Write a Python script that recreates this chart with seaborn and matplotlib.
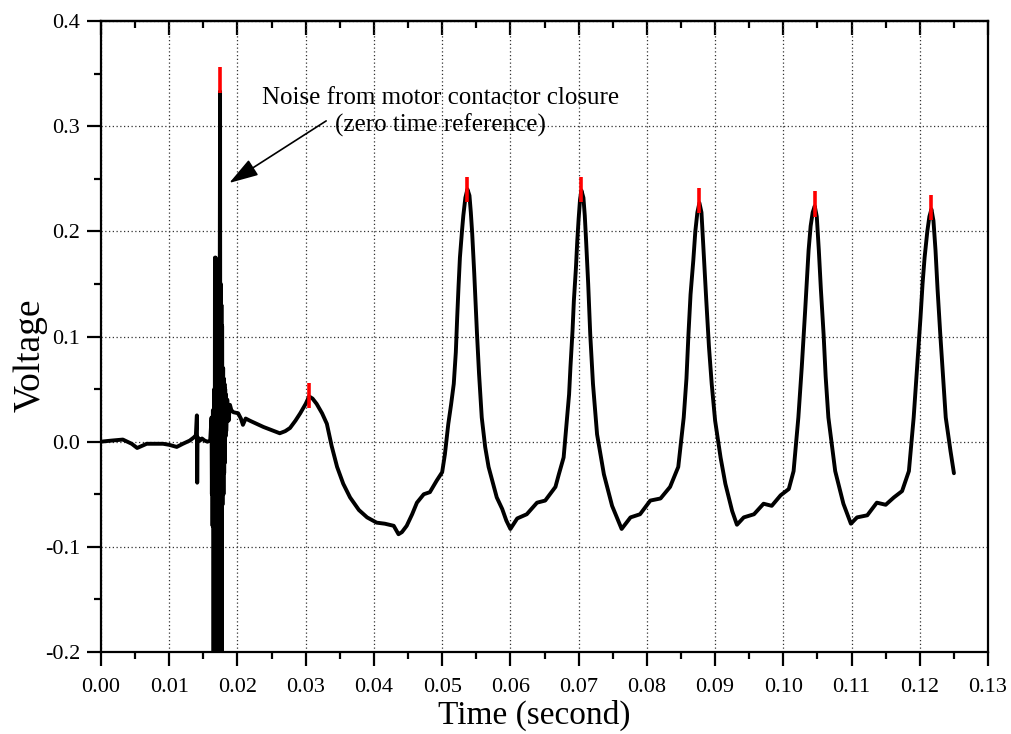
import seaborn as sns
import matplotlib
matplotlib.use("Agg")
import matplotlib.pyplot as plt
import pandas as pd

## Data ##
time_s = [
    # quiet baseline + first small spike
    0.0000, 0.0015, 0.0032, 0.0045, 0.0053, 0.0060, 0.0067, 0.0080, 0.0091, 0.0100,
    0.0111, 0.0120, 0.0130, 0.0136, 0.0139, 0.01405, 0.01410, 0.01415, 0.0142, 0.0145,
    0.0148, 0.0152, 0.0156, 0.0160,
    # noise burst from contactor closure
    0.0162, 0.01625, 0.0163, 0.01635, 0.0164, 0.0165, 0.0166, 0.01665, 0.0167, 0.01675,
    0.0168, 0.01685, 0.0169, 0.01695, 0.0170, 0.01705, 0.0171, 0.01715, 0.0172, 0.0173,
    0.01745, 0.0175, 0.01755, 0.0176, 0.01765, 0.0177, 0.01775, 0.0178, 0.0179, 0.01795,
    0.0180, 0.01805, 0.0181, 0.01815, 0.0182, 0.01825, 0.0183, 0.01835, 0.0185, 0.0187,
    0.0189, 0.0191,
    # after burst, small hump, first trough
    0.0194, 0.0201, 0.0205, 0.0208, 0.0212, 0.0218, 0.0228, 0.0238, 0.0250, 0.0262,
    0.0270, 0.0277, 0.0285, 0.0292, 0.0300, 0.0305, 0.0310, 0.0316, 0.0324, 0.0331,
    0.0338, 0.0346, 0.0355, 0.0365, 0.0378, 0.0390, 0.0404, 0.0416, 0.0429, 0.0436,
    0.0441, 0.0448, 0.0456, 0.0463, 0.0473, 0.0482, 0.0492, 0.0500, 0.0504,
    # peak 1
    0.0509, 0.0513, 0.0517, 0.0520, 0.0522, 0.0524, 0.0526, 0.0529, 0.0531, 0.0534,
    0.0537, 0.0540, 0.0542, 0.0544, 0.0547, 0.0551, 0.0554, 0.0558, 0.0563, 0.0568,
    # trough 1
    0.0580, 0.0588, 0.0594, 0.0600, 0.0610, 0.0624, 0.0639, 0.0651, 0.0666, 0.0671,
    0.0678,
    # peak 2
    0.0683, 0.0686, 0.0688, 0.0691, 0.0693, 0.0696, 0.0698, 0.0700, 0.0702, 0.0704,
    0.0707, 0.0709, 0.0711, 0.0714, 0.0717, 0.0721, 0.0727,
    # trough 2
    0.0737, 0.0749, 0.0763, 0.0776, 0.0790, 0.0805, 0.0820, 0.0834, 0.0846,
    # peak 3
    0.0854, 0.0858, 0.0861, 0.0864, 0.0868, 0.0871, 0.0874, 0.0877, 0.0880, 0.0883,
    0.0887, 0.0891, 0.0895, 0.0900, 0.0908,
    # trough 3
    0.0915, 0.0925, 0.0932, 0.0942, 0.0957, 0.0971, 0.0983, 0.0996, 0.1008, 0.1015,
    # peak 4
    0.1022, 0.1027, 0.1032, 0.1035, 0.1037, 0.1040, 0.1043, 0.1046, 0.1049, 0.1052,
    0.1055, 0.1059, 0.1062, 0.1066,
    # trough 4
    0.1076, 0.1088, 0.1099, 0.1108, 0.1123, 0.1137, 0.1150, 0.1162, 0.1174, 0.1184,
    # peak 5 and tail
    0.1191, 0.1196, 0.1201, 0.1204, 0.1207, 0.1211, 0.1214, 0.1217, 0.1220, 0.1223,
    0.1226, 0.1230, 0.1234, 0.1238, 0.1245, 0.1250,
]
voltage = [
    0.000, 0.001, 0.002, -0.002, -0.006, -0.004, -0.002, -0.002, -0.002, -0.003,
    -0.005, -0.002, 0.001, 0.004, 0.006, 0.025, -0.039, 0.002, 0.004, 0.001,
    0.003, 0.001, 0.000, 0.001,
    0.023, -0.050, 0.020, -0.080, 0.030, -0.250, 0.050, -0.250, 0.175, -0.250,
    0.175, -0.250, 0.170, -0.250, 0.170, -0.250, 0.165, -0.250, 0.160, -0.250,
    0.333, -0.250, 0.150, -0.250, 0.130, -0.250, 0.110, -0.060, 0.070, -0.050,
    0.060, -0.030, 0.055, -0.020, 0.050, 0.005, 0.045, 0.010, 0.040, 0.020,
    0.035, 0.030,
    0.028, 0.027, 0.022, 0.016, 0.022, 0.020, 0.017, 0.014, 0.011, 0.008,
    0.010, 0.013, 0.020, 0.027, 0.036, 0.043, 0.041, 0.036, 0.027, 0.017,
    -0.004, -0.024, -0.040, -0.053, -0.065, -0.072, -0.077, -0.078, -0.080, -0.088,
    -0.086, -0.080, -0.069, -0.058, -0.050, -0.048, -0.037, -0.029, -0.012,
    0.017, 0.035, 0.055, 0.085, 0.118, 0.148, 0.175, 0.200, 0.215, 0.232,
    0.240, 0.234, 0.218, 0.198, 0.160, 0.103, 0.065, 0.023, -0.005, -0.024,
    -0.053, -0.064, -0.075, -0.083, -0.073, -0.069, -0.058, -0.056, -0.043, -0.031,
    -0.015,
    0.023, 0.045, 0.071, 0.105, 0.134, 0.165, 0.191, 0.212, 0.230, 0.239,
    0.232, 0.215, 0.190, 0.150, 0.102, 0.055, 0.007,
    -0.031, -0.061, -0.083, -0.072, -0.069, -0.056, -0.054, -0.043, -0.024,
    0.023, 0.060, 0.103, 0.140, 0.172, 0.200, 0.218, 0.227, 0.218, 0.182,
    0.135, 0.090, 0.055, 0.020, -0.015,
    -0.040, -0.066, -0.079, -0.072, -0.069, -0.059, -0.061, -0.051, -0.045, -0.028,
    0.023, 0.071, 0.125, 0.160, 0.182, 0.205, 0.218, 0.224, 0.214, 0.182,
    0.145, 0.102, 0.062, 0.023,
    -0.028, -0.059, -0.078, -0.072, -0.070, -0.058, -0.060, -0.053, -0.047, -0.028,
    0.023, 0.071, 0.118, 0.150, 0.175, 0.200, 0.214, 0.221, 0.210, 0.182,
    0.145, 0.102, 0.062, 0.023, -0.009, -0.030,
]

# red peak markers (time, top, bottom) #
peak_t = [0.01745, 0.0305, 0.0537, 0.0704, 0.0877, 0.1046, 0.1217]
peak_top = [0.356, 0.056, 0.252, 0.252, 0.241, 0.238, 0.235]
peak_bot = [0.332, 0.032, 0.228, 0.228, 0.217, 0.214, 0.211]

x_ticks = [0.00, 0.01, 0.02, 0.03, 0.04, 0.05, 0.06, 0.07, 0.08, 0.09, 0.10, 0.11, 0.12, 0.13]
y_ticks = [-0.2, -0.1, 0.0, 0.1, 0.2, 0.3, 0.4]

df = pd.DataFrame({"Time": time_s, "Voltage": voltage})

## Style ##
sns.set_theme(style="white")
plt.rcParams["font.family"] = ["Liberation Serif", "DejaVu Serif"]
plt.rcParams["axes.linewidth"] = 1.6
plt.rcParams["text.color"] = "black"
plt.rcParams["axes.labelcolor"] = "black"
plt.rcParams["xtick.color"] = "black"
plt.rcParams["ytick.color"] = "black"

fig = plt.figure(figsize=(10.11, 7.34), dpi=100)
ax = fig.add_axes([0.0999, 0.1117, 0.8774, 0.8597])

sns.lineplot(data=df, x="Time", y="Voltage", ax=ax, color="black",
             linewidth=2.8, estimator=None, sort=False, zorder=2)
ax.vlines(peak_t, peak_bot, peak_top, color="red", linewidth=2.6, zorder=3)

ax.set_xlim(0, 0.13)
ax.set_ylim(-0.2, 0.4)
ax.set_xticks(x_ticks)
ax.set_xticklabels([f"{v:.2f}" for v in x_ticks])
ax.set_yticks(y_ticks)
ax.set_yticklabels([f"{v:.1f}" for v in y_ticks])
ax.set_xticks([v + 0.005 for v in x_ticks[:-1]], minor=True)
ax.set_yticks([v + 0.05 for v in y_ticks[:-1]], minor=True)

ax.grid(True, which="major", color="#333333", linestyle=(0, (1, 2)), linewidth=0.9)
ax.set_axisbelow(True)

ax.tick_params(which="major", direction="out", length=10, width=1.6,
               labelsize=16, colors="black")
ax.tick_params(which="minor", direction="out", length=5, width=1.6)
ax.tick_params(axis="x", which="major", pad=9)
ax.tick_params(axis="y", which="major", pad=5)
ax.tick_params(left=True, bottom=True, which="both")
for s in ax.spines.values():
    s.set_color("black")

# top axis: inward ticks, no labels #
top = ax.secondary_xaxis("top")
top.set_xticks(x_ticks)
top.set_xticks([v + 0.005 for v in x_ticks[:-1]], minor=True)
top.tick_params(which="major", direction="in", length=10, width=1.6, labeltop=False)
top.tick_params(which="minor", direction="in", length=5, width=1.6)
top.spines["top"].set_linewidth(1.6)

ax.set_xlabel("Time (second)", fontsize=24)
ax.set_ylabel("Voltage", fontsize=27)
ax.xaxis.set_label_coords(0.488, -0.075)
ax.yaxis.set_label_coords(-0.06, 0.47)

ax.text(0.0497, 0.3135, "Noise from motor contactor closure\n(zero time reference)",
        ha="center", va="center", fontsize=18, linespacing=1.3)
ax.annotate("", xy=(0.0188, 0.246), xytext=(0.0330, 0.305),
            arrowprops=dict(arrowstyle="-|>,head_length=0.9,head_width=0.28",
                            color="black", lw=1.2, mutation_scale=20,
                            shrinkA=0, shrinkB=0))

fig.savefig("out.png", dpi=100)
